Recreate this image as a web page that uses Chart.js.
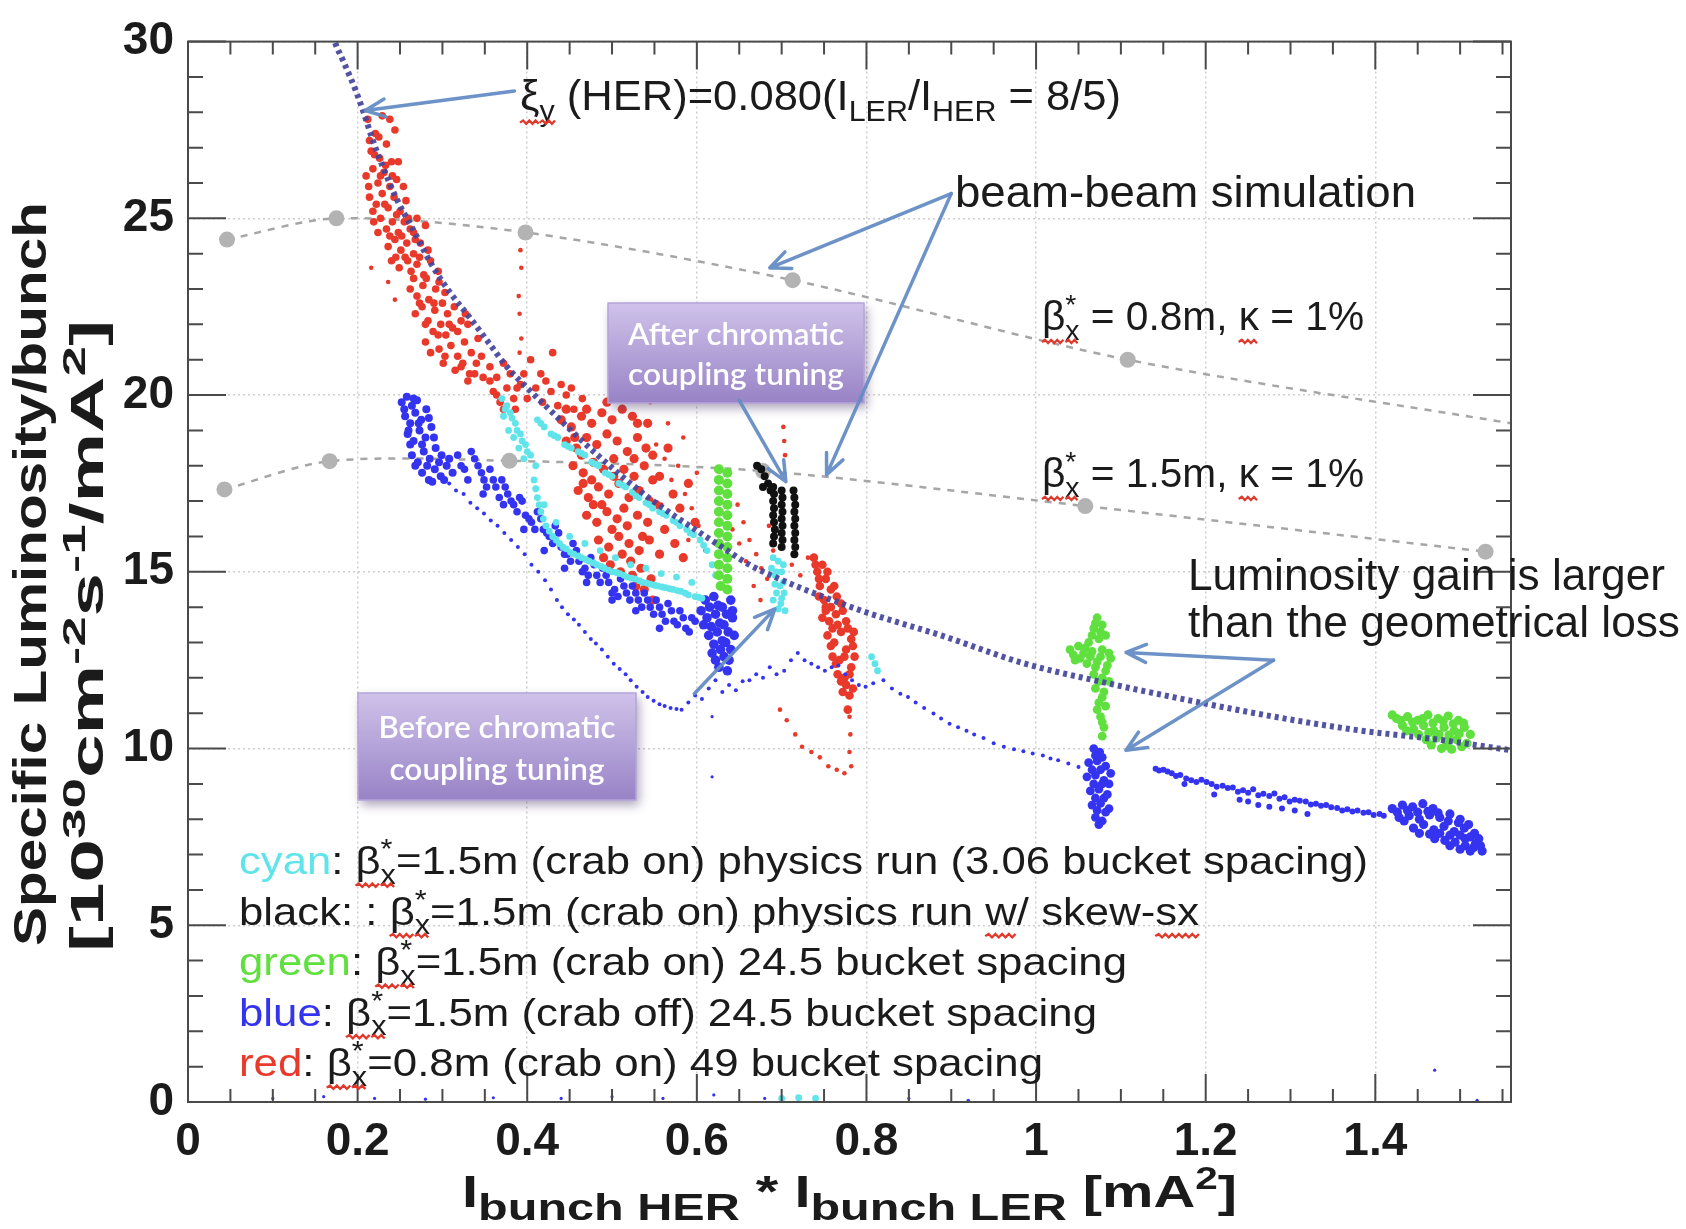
<!DOCTYPE html>
<html>
<head>
<meta charset="utf-8">
<title>Specific luminosity per bunch</title>
<script src="https://cdn.jsdelivr.net/npm/chart.js@4.4.1/dist/chart.umd.min.js"></script>
<style>
  html, body { margin: 0; padding: 0; background: #fff; }
  #wrap { width: 1686px; height: 1229px; }
</style>
</head>
<body>
<div id="wrap"><canvas id="lumiChart" width="1686" height="1229"></canvas></div>
<script>
// ---- measured data: [I_HER*I_LER (mA^2), specific luminosity] ----

// beam-beam limit curve xi_y(HER) = 0.080
const xiCurve = [[0.168,30.4],[0.173,30.0],[0.184,29.4],[0.198,28.6],[0.207,28.0],[0.218,27.2],[0.229,26.5],
  [0.247,25.5],[0.265,24.7],[0.287,23.7],[0.309,22.9],[0.332,22.2],[0.354,21.5],[0.376,20.8],[0.400,20.2],
  [0.430,19.5],[0.483,18.3],[0.543,17.1],[0.604,16.1],[0.636,15.6],[0.662,15.2],[0.702,14.75],[0.743,14.35],
  [0.800,13.85],[0.888,13.2],[0.987,12.4],[1.065,11.95],[1.183,11.35],[1.281,10.9],[1.379,10.52],[1.478,10.24],[1.560,9.95]];

// beam-beam simulation
const simBeta08 = [[0.046,24.4],[0.175,25.0],[0.398,24.6],[0.713,23.25],[1.108,21.0],[1.560,19.2]];
const simBeta15 = [[0.043,17.33],[0.167,18.13],[0.379,18.14],[0.678,17.85],[1.058,16.86],[1.530,15.57]];

// red: beta_x* = 0.8m (crab on) 49 bucket spacing
const redBand = [[0.212,27.8],[0.221,27.4],[0.229,27.9],[0.216,26.9],[0.226,26.7],[0.234,27.1],[0.240,26.6],[0.244,27.5],
  [0.210,26.2],[0.218,26.4],[0.224,26.0],[0.231,26.3],[0.238,25.9],[0.246,26.1],[0.214,25.6],[0.222,25.4],[0.229,25.7],
  [0.236,25.3],[0.243,25.6],[0.250,25.2],[0.257,25.5],[0.219,24.9],[0.227,25.0],[0.234,24.7],[0.241,24.9],[0.248,24.6],
  [0.255,24.9],[0.262,24.7],[0.270,25.0],[0.280,24.8],[0.236,24.2],[0.244,24.4],[0.251,24.1],[0.258,24.3],[0.266,24.0],
  [0.274,24.3],[0.240,23.8],[0.249,23.6],[0.256,23.9],[0.263,23.5],[0.270,23.7],[0.278,23.4],[0.286,23.8],[0.295,23.5],
  [0.262,23.0],[0.270,22.8],[0.277,23.1],[0.284,22.7],[0.292,23.0],[0.300,22.6],[0.268,22.3],[0.276,22.5],[0.283,22.1],
  [0.291,22.4],[0.298,22.0],[0.306,22.3],[0.314,22.5],[0.322,22.1],[0.289,21.8],[0.304,21.7],[0.312,21.9],[0.330,22.0],
  [0.280,21.5],[0.296,21.3],[0.310,21.4],[0.318,21.1],[0.326,21.5],[0.334,21.2],[0.342,21.6],[0.315,20.7],[0.324,20.9],
  [0.332,20.6],[0.340,20.9],[0.348,20.5],[0.356,20.8],[0.364,20.5],[0.372,20.9],[0.301,20.9],[0.360,20.1],[0.368,19.8],
  [0.376,20.2],[0.384,19.9],[0.392,20.3],[0.400,19.9],[0.410,20.2],[0.418,19.8],[0.428,20.1],[0.436,19.7],[0.446,20.0],
  [0.455,19.6],[0.404,21.0],[0.430,21.2],[0.416,20.6],
  [0.214,27.2],[0.225,27.3],[0.238,27.8],[0.220,26.8],[0.233,26.5],[0.248,26.6],[0.213,25.9],[0.227,26.2],[0.241,26.2],
  [0.254,25.9],[0.218,25.2],[0.232,25.4],[0.246,25.1],[0.260,25.0],[0.268,24.4],[0.224,24.6],[0.238,24.5],[0.252,24.5],
  [0.266,24.6],[0.245,23.9],[0.259,23.8],[0.273,23.9],[0.283,24.1],[0.266,23.3],[0.281,23.3],[0.290,22.6],[0.296,23.2],
  [0.273,22.6],[0.303,22.9],[0.280,22.0],[0.295,21.7],[0.308,22.0],[0.318,21.8],[0.327,22.3],[0.286,21.2],[0.303,21.1],
  [0.322,20.8],[0.338,20.6],[0.346,21.1],[0.356,20.4],[0.330,20.4],[0.364,20.0],[0.380,20.6],[0.388,20.2],[0.396,20.6],
  [0.422,20.4],[0.440,20.3],[0.452,20.2],[0.465,19.9],[0.372,19.6],[0.386,19.6]];
const redCore = [[0.440,19.3],[0.452,19.1],[0.464,19.4],[0.476,19.2],[0.488,19.5],[0.500,19.3],[0.512,19.6],[0.524,19.4],
  [0.446,18.7],[0.458,18.5],[0.470,18.8],[0.482,18.6],[0.494,18.9],[0.506,18.7],[0.518,18.4],[0.530,18.8],[0.540,18.5],
  [0.454,18.0],[0.466,17.8],[0.478,18.1],[0.490,17.9],[0.502,18.2],[0.514,17.9],[0.526,17.7],[0.538,18.0],
  [0.460,17.3],[0.472,17.1],[0.484,17.4],[0.496,17.2],[0.508,17.5],[0.520,17.1],[0.532,17.3],[0.544,17.0],
  [0.470,16.6],[0.482,16.4],[0.494,16.7],[0.506,16.5],[0.518,16.3],[0.530,16.6],[0.542,16.4],
  [0.484,15.9],[0.496,15.7],[0.508,16.0],[0.520,15.8],[0.532,15.6],[0.544,15.9],
  [0.498,15.2],[0.510,15.0],[0.522,15.3],[0.534,15.1],[0.546,14.8],[0.528,14.6],
  [0.446,19.6],[0.470,19.6],[0.494,19.8],[0.518,19.9],[0.530,19.2],[0.542,19.2],[0.548,18.3],[0.556,17.7],[0.552,16.9],
  [0.562,16.2],[0.556,15.5],[0.572,17.2],[0.566,18.5],[0.580,16.8],[0.590,17.5],[0.574,15.8],[0.584,15.4],[0.598,16.4],
  [0.538,14.5],[0.548,14.2],[0.464,18.3],[0.476,17.6],[0.488,16.9],[0.500,16.2],[0.512,15.5],[0.524,14.9],[0.456,18.8],
  [0.478,16.9],[0.490,15.4],[0.536,16.0],[0.548,17.6],[0.526,18.2],[0.514,16.8],[0.502,17.7],[0.466,17.5]];
const redSparse = [[0.216,23.6],[0.236,23.2],[0.244,22.7],[0.392,24.1],[0.393,23.6],[0.390,22.8],[0.391,22.3],[0.393,21.6],
  [0.391,21.2],[0.552,18.6],[0.562,18.2],[0.570,17.6],[0.578,18.0],[0.586,17.2],[0.594,16.8],[0.602,16.3],[0.558,16.9],
  [0.575,16.4],[0.590,15.9],[0.610,15.6],[0.566,19.2],[0.584,18.8],[0.545,19.8],[0.560,19.9],[0.600,17.8],
  [0.648,16.9],[0.655,16.4],[0.662,15.9],[0.670,15.5],[0.676,15.1],[0.683,14.8],[0.658,15.3],[0.667,14.6],[0.675,14.2],
  [0.650,15.8],[0.642,16.2],[0.690,15.6],[0.685,16.3],[0.702,19.1],[0.703,18.7],[0.704,18.3],[0.712,15.2],[0.722,14.9],
  [0.731,15.4],[0.780,10.9],[0.781,10.4],[0.780,9.9],[0.782,9.5],[0.698,11.1],[0.706,10.8],[0.716,10.4],[0.724,10.05],
  [0.735,9.9],[0.745,9.75],[0.755,9.5],[0.765,9.4],[0.774,9.3]];
const redCluster = [[0.738,15.4],[0.742,15.0],[0.748,15.2],[0.745,14.6],[0.752,14.8],[0.758,14.5],[0.750,14.2],[0.758,14.0],
  [0.765,14.3],[0.748,13.7],[0.756,13.6],[0.764,13.8],[0.772,13.9],[0.754,13.2],[0.762,13.0],[0.770,13.3],[0.778,13.4],
  [0.760,12.6],[0.768,12.5],[0.776,12.8],[0.784,12.9],[0.766,12.1],[0.774,12.0],[0.782,12.3],[0.772,11.6],[0.780,11.5],
  [0.778,11.1],[0.785,13.3],
  [0.740,15.2],[0.744,14.8],[0.754,15.0],[0.762,14.6],[0.752,14.0],[0.744,14.3],[0.770,14.1],[0.760,13.4],[0.752,13.9],
  [0.776,13.6],[0.766,13.5],[0.782,13.1],[0.758,12.9],[0.774,12.6],[0.786,12.6],[0.764,12.4],[0.780,12.1],[0.770,11.9],
  [0.776,11.8],[0.784,11.7]];

// blue: beta_x* = 1.5m (crab off) 24.5 bucket spacing
const blueTop = [[0.252,19.8],[0.258,19.95],[0.264,19.7],[0.270,19.85],[0.256,19.4],[0.262,19.2],[0.268,19.5],[0.275,19.3],
  [0.281,19.6],[0.259,18.9],[0.266,18.7],[0.273,19.0],[0.280,18.8],[0.287,19.1],[0.264,18.3],[0.271,18.1],[0.278,18.4],
  [0.285,18.2],[0.292,18.5],[0.299,18.3],[0.276,17.8],[0.284,17.6],[0.291,17.9],[0.298,17.7],[0.305,18.0],[0.312,17.8],
  [0.255,19.6],[0.266,19.9],[0.260,19.0],[0.272,19.2],[0.284,19.35],[0.262,18.6],[0.276,18.6],[0.290,18.8],[0.268,18.0],
  [0.282,18.0],[0.296,18.1],[0.288,17.55],[0.302,17.6],[0.308,18.2]];
const blueBand = [[0.318,18.3],[0.326,17.9],[0.334,18.4],[0.342,18.0],[0.349,17.6],[0.356,17.9],[0.363,17.4],[0.370,17.6],
  [0.377,17.2],[0.384,16.9],[0.391,17.1],[0.398,16.6],[0.405,16.4],[0.412,16.7],[0.419,16.2],[0.426,16.0],[0.433,16.3],
  [0.440,15.7],[0.447,15.5],[0.454,15.8],[0.461,15.3],[0.468,15.1],[0.475,15.4],[0.482,14.9],[0.489,15.1],[0.496,14.7],
  [0.503,14.5],[0.510,14.8],[0.517,14.4],[0.524,14.6],[0.531,14.2],[0.538,14.4],[0.545,14.0],[0.552,14.2],[0.559,13.8],
  [0.566,14.1],[0.573,13.6],[0.580,13.9],[0.587,13.4],[0.594,13.7],[0.348,17.2],[0.372,16.9],[0.396,16.2],[0.420,15.6],
  [0.444,15.1],[0.470,14.7],[0.500,14.2],[0.528,13.9],[0.556,13.4],
  [0.322,18.0],[0.330,17.6],[0.338,18.2],[0.346,17.8],[0.352,17.4],[0.360,17.6],[0.367,17.1],[0.374,17.4],[0.381,17.0],
  [0.388,16.7],[0.394,17.0],[0.402,16.5],[0.409,16.2],[0.416,16.5],[0.423,16.1],[0.430,15.8],[0.437,16.1],[0.444,15.5],
  [0.451,15.3],[0.458,15.6],[0.465,15.0],[0.472,14.9],[0.479,15.2],[0.486,14.7],[0.493,14.9],[0.500,14.4],[0.507,14.3],
  [0.514,14.6],[0.521,14.2],[0.528,14.4],[0.535,14.0],[0.542,14.2],[0.549,13.8],[0.556,14.0],[0.563,13.6],[0.570,13.9],
  [0.577,13.5],[0.584,13.7],[0.591,13.3],[0.598,13.6]];
const blueCore = [[0.610,14.2],[0.620,14.3],[0.630,14.0],[0.640,14.2],[0.612,13.7],[0.622,13.8],[0.632,13.5],[0.642,13.7],
  [0.614,13.2],[0.624,13.3],[0.634,13.0],[0.644,13.2],[0.618,12.7],[0.628,12.8],[0.638,12.5],[0.626,12.3],[0.636,12.2],[0.605,13.9],
  [0.615,14.0],[0.625,14.05],[0.635,13.8],[0.617,13.45],[0.627,13.55],[0.637,13.3],[0.620,12.95],[0.630,13.05],[0.640,12.8],
  [0.622,12.5],[0.632,12.6],[0.642,13.9],[0.608,13.5]];
const blueStrand = [[0.300,17.7],[0.308,17.5],[0.316,17.3],[0.325,17.2],[0.333,16.95],[0.341,16.8],[0.349,16.65],[0.357,16.45],
  [0.365,16.3],[0.373,16.1],[0.381,15.9],[0.389,15.7],[0.397,15.5],[0.405,15.2],[0.413,15.0],[0.421,14.76],[0.428,14.5],
  [0.435,14.2],[0.441,14.0],[0.448,13.8],[0.455,13.65],[0.461,13.5],[0.468,13.3],[0.475,13.1],[0.481,12.97],[0.488,12.8],
  [0.495,12.6],[0.502,12.4],[0.509,12.25],[0.516,12.1],[0.522,11.93],[0.529,11.75],[0.536,11.6],[0.542,11.46],[0.549,11.35],
  [0.556,11.25],[0.562,11.2],[0.569,11.15],[0.576,11.12],[0.582,11.1],[0.590,11.3],[0.598,11.5],[0.606,11.4],[0.614,11.7],
  [0.622,11.93],[0.630,11.6],[0.638,11.8],[0.646,11.65],[0.654,11.9],[0.662,11.93],[0.670,12.1],[0.678,12.0],[0.686,12.3],
  [0.694,12.1],[0.703,12.2],[0.711,12.5],[0.719,12.7],[0.727,12.5],[0.735,12.4],[0.743,12.3],[0.751,12.2],[0.759,12.3],
  [0.767,12.35],[0.775,12.1],[0.783,11.93],[0.791,11.8],[0.799,11.75],[0.808,11.85],[0.820,11.93],[0.830,11.7],[0.840,11.55],
  [0.849,11.46],[0.858,11.3],[0.868,11.15],[0.879,10.99],[0.888,10.85],[0.898,10.7],[0.908,10.6],[0.918,10.5],[0.927,10.4],
  [0.938,10.3],[0.950,10.15],[0.962,10.05],[0.974,9.98],[0.985,9.92],[0.996,9.86],[1.008,9.8],[1.017,9.72],[1.026,9.67],
  [1.038,9.58],[1.050,9.48]];
const blueMid = [[1.068,10.0],[1.075,9.9],[1.062,9.6],[1.072,9.65],[1.082,9.5],[1.060,9.2],[1.070,9.25],[1.080,9.1],[1.088,9.3],
  [1.064,8.8],[1.074,8.85],[1.084,8.7],[1.066,8.4],[1.076,8.45],[1.086,8.3],[1.070,8.05],[1.078,7.95],
  [1.070,9.8],[1.078,9.75],[1.066,9.4],[1.076,9.4],[1.086,9.0],[1.068,9.0],[1.078,9.0],[1.070,8.6],[1.080,8.6],[1.072,8.25],
  [1.082,8.2],[1.074,7.85]];
const blueTail = [[1.141,9.43],[1.150,9.40],[1.160,9.30],[1.170,9.25],[1.183,9.10],[1.195,9.12],[1.207,9.00],[1.220,8.95],
  [1.232,8.90],[1.244,8.82],[1.256,8.85],[1.268,8.72],[1.281,8.73],[1.293,8.62],[1.305,8.55],[1.318,8.50],[1.330,8.44],
  [1.342,8.40],[1.355,8.32],[1.367,8.28],[1.379,8.25],[1.392,8.20],[1.405,8.15],[1.175,9.0],[1.210,8.7],[1.240,8.55],
  [1.262,8.4],[1.290,8.3],[1.320,8.15],
  [1.145,9.38],[1.155,9.35],[1.165,9.22],[1.177,9.15],[1.189,9.05],[1.201,9.05],[1.213,8.92],[1.226,8.88],[1.238,8.78],
  [1.250,8.75],[1.262,8.68],[1.275,8.66],[1.287,8.58],[1.299,8.5],[1.311,8.52],[1.324,8.42],[1.336,8.38],[1.348,8.34],
  [1.361,8.25],[1.373,8.22],[1.386,8.18],[1.398,8.12],[1.410,8.1],[1.250,8.5],[1.275,8.35],[1.305,8.25]];
const blueEnd = [[1.420,8.30],[1.432,8.40],[1.444,8.35],[1.456,8.44],[1.468,8.30],[1.428,8.05],[1.440,8.10],[1.452,8.0],
  [1.464,8.12],[1.476,8.05],[1.488,8.15],[1.500,8.0],[1.445,7.75],[1.457,7.85],[1.469,7.7],[1.481,7.8],[1.493,7.65],
  [1.505,7.75],[1.517,7.6],[1.470,7.45],[1.482,7.4],[1.494,7.35],[1.506,7.45],[1.518,7.3],[1.500,7.15],[1.512,7.1],[1.524,7.25],
  [1.426,8.2],[1.438,8.25],[1.450,8.2],[1.462,8.22],[1.474,8.18],[1.486,7.95],[1.498,7.9],[1.510,7.85],[1.434,7.95],
  [1.452,7.6],[1.464,7.58],[1.476,7.6],[1.488,7.55],[1.500,7.55],[1.512,7.5],[1.522,7.45],[1.488,7.25],[1.506,7.25],
  [1.516,7.2],[1.526,7.1]];
const blueStray = [[0.618,10.9],[0.618,9.2],[1.470,0.9],[0.10,0.1],[0.16,0.15],[0.22,0.1],[0.28,0.08],[0.36,0.12],[0.44,0.1],
  [0.50,0.15],[0.56,0.1],[0.62,0.2],[0.68,0.1],[0.85,0.1],[0.92,0.05],[1.52,0.05]];

// cyan: beta_x* = 1.5m (crab on) physics run
const cyanUpper = [[0.370,19.9],[0.376,19.7],[0.372,19.4],[0.380,19.5],[0.386,19.2],[0.378,19.0],[0.384,18.8],[0.392,18.9],
  [0.390,18.5],[0.398,18.6],[0.396,18.2],[0.404,18.3],[0.410,18.0],[0.412,19.3],[0.420,19.1],[0.428,18.9],[0.436,18.8],
  [0.444,18.6],[0.452,18.5],[0.460,18.4],[0.468,18.3],[0.476,18.1],[0.484,18.0],[0.492,17.8],[0.500,17.7],[0.508,17.5],
  [0.516,17.4],[0.524,17.25],[0.532,17.1],[0.540,16.95],[0.548,16.8],[0.556,16.7],[0.564,16.6],[0.572,16.45],[0.580,16.3],
  [0.588,16.2],[0.596,16.05],[0.604,15.9],[0.612,15.6],[0.618,15.2],[0.622,14.9],
  [0.374,19.6],[0.382,19.35],[0.388,19.0],[0.394,18.7],[0.400,18.4],[0.416,19.2],[0.432,18.85],[0.448,18.55],[0.464,18.35],
  [0.480,18.05],[0.496,17.75],[0.512,17.45],[0.528,17.15],[0.544,16.9],[0.560,16.65],[0.576,16.4],[0.592,16.1],[0.608,15.75]];
const cyanLower = [[0.408,17.6],[0.412,17.1],[0.416,16.7],[0.422,16.3],[0.430,16.0],[0.438,15.8],[0.446,15.65],[0.455,15.5],
  [0.464,15.4],[0.473,15.3],[0.482,15.2],[0.491,15.1],[0.500,15.0],[0.509,14.95],[0.518,14.85],[0.527,14.8],[0.536,14.7],
  [0.545,14.65],[0.554,14.6],[0.563,14.55],[0.572,14.5],[0.581,14.45],[0.590,14.35],[0.598,14.3],[0.606,14.25],
  [0.420,16.9],[0.434,16.4],[0.450,16.0],[0.468,15.8],[0.486,15.6],[0.504,15.4],[0.522,15.2],[0.540,15.1],[0.558,14.95],
  [0.576,14.85],[0.594,14.7],
  [0.410,17.35],[0.414,16.9],[0.419,16.5],[0.426,16.15],[0.434,15.9],[0.442,15.7],[0.451,15.55],[0.460,15.45],[0.469,15.35],
  [0.478,15.25],[0.487,15.15],[0.496,15.05],[0.505,14.98],[0.514,14.9],[0.523,14.82],[0.532,14.75],[0.541,14.68],
  [0.550,14.62],[0.559,14.57],[0.568,14.52],[0.577,14.47],[0.586,14.4],[0.602,14.28]];
const cyanStrip = [[0.690,15.4],[0.696,15.3],[0.700,15.0],[0.692,14.9],[0.698,14.6],[0.703,14.4],[0.694,14.4],[0.699,14.1],
  [0.704,13.9],[0.690,14.2],[0.688,15.1],[0.694,15.0],[0.702,14.7],[0.692,14.65],[0.700,14.25],[0.696,13.95],[0.702,15.2],
  [0.806,12.6],[0.810,12.4],[0.813,12.2],[0.70,0.1],[0.72,0.12],[0.74,0.1]];

// green: beta_x* = 1.5m (crab on) 24.5 bucket spacing
const greenBar = [[0.626,17.9],[0.636,17.8],[0.626,17.6],[0.636,17.5],[0.626,17.3],[0.636,17.2],[0.626,17.0],[0.636,16.9],
  [0.626,16.7],[0.636,16.6],[0.626,16.4],[0.636,16.3],[0.626,16.1],[0.636,16.0],[0.626,15.8],[0.636,15.7],[0.626,15.5],
  [0.636,15.4],[0.626,15.2],[0.636,15.1],[0.626,14.9],[0.636,14.8],[0.628,14.6],[0.636,14.5]];
const greenMid = [[1.072,13.7],[1.078,13.5],[1.068,13.4],[1.082,13.2],[1.074,13.1],[1.062,13.0],[1.050,12.9],[1.040,12.8],
  [1.056,12.7],[1.066,12.75],[1.078,12.8],[1.086,12.7],[1.046,12.5],[1.060,12.4],[1.072,12.45],[1.084,12.35],[1.068,12.1],
  [1.078,12.0],[1.086,11.9],[1.070,11.7],[1.080,11.6],[1.074,11.3],[1.082,11.2],[1.076,10.9],[1.080,10.6],[1.078,10.35],
  [1.070,13.55],[1.076,13.3],[1.066,13.2],[1.058,12.85],[1.044,12.65],[1.052,12.55],[1.064,12.6],[1.076,12.6],[1.088,12.55],
  [1.070,12.3],[1.082,12.2],[1.074,11.9],[1.078,11.45],[1.072,11.1],[1.078,10.75]];
const greenEnd = [[1.425,10.85],[1.438,10.9],[1.450,10.8],[1.462,10.95],[1.474,10.85],[1.486,10.92],[1.498,10.8],[1.445,10.55],
  [1.457,10.65],[1.469,10.5],[1.481,10.6],[1.493,10.5],[1.505,10.6],[1.512,10.4],[1.460,10.25],[1.472,10.3],[1.484,10.2],
  [1.496,10.25],[1.508,10.15],[1.478,10.0],[1.490,9.98],[1.432,10.65],
  [1.430,10.8],[1.444,10.75],[1.456,10.85],[1.468,10.72],[1.480,10.78],[1.492,10.7],[1.504,10.72],[1.451,10.4],[1.463,10.45],
  [1.475,10.4],[1.487,10.38],[1.499,10.42],[1.466,10.1],[1.484,10.08],[1.502,10.05],[1.420,10.95],[1.437,10.5]];

// black: beta_x* = 1.5m (crab on) physics run w/ skew-sx
const blackPts = [[0.671,18.0],[0.676,17.9],[0.680,17.7],[0.684,17.5],[0.678,17.4],[0.687,17.3],
  [0.690,17.4],[0.691,17.2],[0.690,17.0],[0.691,16.8],[0.690,16.6],[0.691,16.4],[0.692,16.2],[0.691,16.0],[0.690,15.8],
  [0.700,17.3],[0.701,17.1],[0.700,16.9],[0.701,16.7],[0.700,16.5],[0.701,16.3],[0.700,16.1],[0.701,15.9],[0.700,15.7],
  [0.714,17.3],[0.715,17.1],[0.716,16.9],[0.715,16.7],[0.716,16.5],[0.715,16.3],[0.716,16.1],[0.715,15.9],[0.716,15.7],[0.715,15.5]];

const xTicks = { min: 0, max: 1.56, step: 0.2 };
const yTicks = { min: 0, max: 30, step: 5 };

// ---- drawing helpers ----
const SANS = '"Liberation Sans", Arial, Helvetica, sans-serif';
const INK = '#1b1b1b';
const COL = { red: '#e8392b', blue: '#3434f0', cyan: '#5fe4ea', green: '#5fe03e', black: '#111111' };

const pts = arr => arr.map(p => ({ x: p[0], y: p[1] }));

function scatterSet(arr, color, radius, order) {
  return { type: 'scatter', data: pts(arr), backgroundColor: color, borderWidth: 0,
    pointRadius: radius, pointHoverRadius: radius, order: order };
}

function squiggle(ctx, x1, x2, y) {
  ctx.save();
  ctx.strokeStyle = '#e0392b';
  ctx.lineWidth = 2.2;
  ctx.beginPath();
  ctx.moveTo(x1, y);
  let up = true;
  for (let x = x1 + 3; x <= x2 + 0.5; x += 3) {
    ctx.lineTo(x, up ? y - 2.2 : y + 1.2);
    up = !up;
  }
  ctx.stroke();
  ctx.restore();
}

// text with sub/superscripts, stretched to a given width
function drawRich(ctx, segs, x, y, o) {
  const fam = o.family || SANS;
  const weight = o.weight || 'normal';
  const subScale = o.subScale || 0.7, subShift = o.subShift || 0.25;
  const supScale = o.supScale || 0.7, supShift = o.supShift || -0.4;
  const font = sz => `${weight} ${sz}px ${fam}`;
  const laid = [];
  let cx = 0, prevStart = 0;
  segs.forEach(seg => {
    const sz = seg.sub ? o.size * subScale : seg.sup ? o.size * supScale : o.size;
    ctx.font = font(sz);
    const sw = ctx.measureText(seg.t).width;
    let sx = cx;
    if (seg.stack) { sx = prevStart; cx = Math.max(cx, sx + sw); }
    else cx += sw;
    const dy = seg.sub ? o.size * subShift : seg.sup ? o.size * supShift : 0;
    laid.push({ seg, sz, sx, sw, dy });
    prevStart = sx;
  });
  const natural = cx;
  const k = o.width ? o.width / natural : 1;
  ctx.save();
  ctx.translate(x, y);
  if (o.rotate) ctx.rotate(o.rotate);
  ctx.scale(k, 1);
  ctx.textBaseline = 'alphabetic';
  ctx.textAlign = 'left';
  const x0 = o.align === 'center' ? -natural / 2 : 0;
  laid.forEach(({ seg, sz, sx, sw, dy }) => {
    ctx.font = font(sz);
    ctx.fillStyle = seg.c || o.color || INK;
    ctx.fillText(seg.t, x0 + sx, dy);
    if (seg.u) squiggle(ctx, x0 + sx, x0 + sx + sw, o.size * 0.3);
  });
  ctx.restore();
}

function arrow(ctx, x1, y1, x2, y2) {
  const a = Math.atan2(y2 - y1, x2 - x1), h = 22, s = 0.42;
  ctx.beginPath();
  ctx.moveTo(x1, y1);
  ctx.lineTo(x2, y2);
  ctx.moveTo(x2 - h * Math.cos(a - s), y2 - h * Math.sin(a - s));
  ctx.lineTo(x2, y2);
  ctx.lineTo(x2 - h * Math.cos(a + s), y2 - h * Math.sin(a + s));
  ctx.stroke();
}

function purpleBox(ctx, x, y, w, h, lines) {
  ctx.save();
  ctx.shadowColor = 'rgba(70,50,100,0.45)';
  ctx.shadowBlur = 10;
  ctx.shadowOffsetX = 3;
  ctx.shadowOffsetY = 5;
  const g = ctx.createLinearGradient(0, y, 0, y + h);
  g.addColorStop(0, '#cfc2ea');
  g.addColorStop(1, '#9883c6');
  ctx.fillStyle = g;
  ctx.fillRect(x, y, w, h);
  ctx.restore();
  ctx.strokeStyle = '#b4a5da';
  ctx.lineWidth = 1.5;
  ctx.strokeRect(x, y, w, h);
  lines.forEach(ln => drawRich(ctx, [{ t: ln.t }], x + w / 2, ln.base,
    { size: 31, weight: '600', family: 'Lato, "Open Sans", sans-serif', color: '#ffffff', width: ln.w, align: 'center' }));
}

const beta = [{ t: 'β', u: 1 }, { t: 'x', sub: 1, u: 1 }, { t: '*', sup: 1, stack: 1 }];

const annotations = {
  id: 'annotations',
  afterDraw(chart) {
    const { ctx, chartArea: a, scales: { x, y } } = chart;
    const px = v => x.getPixelForValue(v);
    const py = v => y.getPixelForValue(v);

    // frame with inward ticks on all four sides
    ctx.save();
    ctx.strokeStyle = '#4a4a4a';
    ctx.lineWidth = 2;
    ctx.strokeRect(a.left, a.top, a.right - a.left, a.bottom - a.top);
    ctx.beginPath();
    for (let i = 0; i <= 30; i++) {
      const len = i % 5 === 0 ? 38 : 15, yy = py(i);
      ctx.moveTo(a.left, yy); ctx.lineTo(a.left + len, yy);
      ctx.moveTo(a.right, yy); ctx.lineTo(a.right - len, yy);
    }
    for (let i = 0; i * 0.05 <= 1.56; i++) {
      const len = i % 4 === 0 ? 28 : 13, xx = px(i * 0.05);
      ctx.moveTo(xx, a.top); ctx.lineTo(xx, a.top + len);
      ctx.moveTo(xx, a.bottom); ctx.lineTo(xx, a.bottom - len);
    }
    ctx.stroke();
    ctx.restore();

    // callout boxes
    purpleBox(ctx, 608, 303, 256, 100, [{ t: 'After chromatic', base: 345, w: 216 }, { t: 'coupling tuning', base: 385, w: 216 }]);
    purpleBox(ctx, 358, 693, 278, 107, [{ t: 'Before chromatic', base: 738, w: 237 }, { t: 'coupling tuning', base: 780, w: 215 }]);

    // arrows
    ctx.save();
    ctx.strokeStyle = 'rgba(100,140,196,0.95)';
    ctx.lineWidth = 3.5;
    ctx.lineCap = 'round';
    ctx.lineJoin = 'round';
    arrow(ctx, px(0.385), py(28.6), px(0.209), py(28.05));
    arrow(ctx, px(0.900), py(25.7), px(0.686), py(23.6));
    arrow(ctx, px(0.900), py(25.7), px(0.753), py(17.75));
    arrow(ctx, px(0.650), py(19.85), px(0.705), py(17.55));
    arrow(ctx, px(0.597), py(11.55), px(0.692), py(13.95));
    arrow(ctx, px(1.280), py(12.5), px(1.106), py(12.72));
    arrow(ctx, px(1.280), py(12.5), px(1.106), py(9.95));
    ctx.restore();

    // labels inside the plot
    drawRich(ctx, [{ t: 'ξ', u: 1 }, { t: 'y', sub: 1, u: 1 }, { t: ' (HER)=0.080(I' }, { t: 'LER', sub: 1 },
      { t: '/I' }, { t: 'HER', sub: 1 }, { t: ' = 8/5)' }], 520, 110, { size: 42, width: 601 });
    drawRich(ctx, [{ t: 'beam-beam simulation' }], 955, 207, { size: 44, width: 461 });
    drawRich(ctx, beta.concat([{ t: ' = 0.8m, ' }, { t: 'κ', u: 1 }, { t: ' = 1%' }]), 1042, 330, { size: 40, width: 322 });
    drawRich(ctx, beta.concat([{ t: ' = 1.5m, ' }, { t: 'κ', u: 1 }, { t: ' = 1%' }]), 1042, 487, { size: 40, width: 322 });
    drawRich(ctx, [{ t: 'Luminosity gain is larger' }], 1188, 590, { size: 44, width: 477 });
    drawRich(ctx, [{ t: 'than the geometrical loss' }], 1188, 637, { size: 44, width: 492 });

    // colour key
    const keyRows = [
      { segs: [{ t: 'cyan', c: COL.cyan }, { t: ': ' }].concat(beta, [{ t: '=1.5m (crab on) physics run (3.06 bucket spacing)' }]), w: 1129 },
      { segs: [{ t: 'black: : ' }].concat(beta, [{ t: '=1.5m (crab on) physics run ' }, { t: 'w', u: 1 }, { t: '/ skew-' }, { t: 'sx', u: 1 }]), w: 960 },
      { segs: [{ t: 'green', c: COL.green }, { t: ': ' }].concat(beta, [{ t: '=1.5m (crab on) 24.5 bucket spacing' }]), w: 888 },
      { segs: [{ t: 'blue', c: COL.blue }, { t: ': ' }].concat(beta, [{ t: '=1.5m (crab off) 24.5 bucket spacing' }]), w: 858 },
      { segs: [{ t: 'red', c: COL.red }, { t: ': ' }].concat(beta, [{ t: '=0.8m (crab on) 49 bucket spacing' }]), w: 804 }
    ];
    keyRows.forEach((r, i) => drawRich(ctx, r.segs, 239, 874 + i * 50.5, { size: 39, width: r.w }));

    // axis titles
    drawRich(ctx, [{ t: 'Specific Luminosity/bunch' }], 46, 946,
      { size: 46, weight: 'bold', width: 744, rotate: -Math.PI / 2 });
    drawRich(ctx, [{ t: '[10' }, { t: '30', sup: 1 }, { t: 'cm' }, { t: '-2', sup: 1 }, { t: 's' }, { t: '-1', sup: 1 },
      { t: '/mA' }, { t: '2', sup: 1 }, { t: ']' }], 103, 952,
      { size: 46, weight: 'bold', width: 632, rotate: -Math.PI / 2 });
    drawRich(ctx, [{ t: 'I' }, { t: 'bunch HER', sub: 1 }, { t: ' * ' }, { t: 'I' }, { t: 'bunch LER', sub: 1 },
      { t: ' [mA' }, { t: '2', sup: 1 }, { t: ']' }], 462, 1207,
      { size: 44, weight: 'bold', width: 775, subScale: 0.84, subShift: 0.3 });
  }
};

const tickFont = { family: SANS, size: 46, weight: 'bold' };
const plainNumber = v => String(Number(v.toFixed(2)));

new Chart(document.getElementById('lumiChart'), {
  type: 'scatter',
  data: {
    datasets: [
      { type: 'line', data: pts(simBeta08), borderColor: '#a6a6a6', borderWidth: 2.5, borderDash: [7, 7],
        tension: 0.3, pointRadius: [8, 8, 8, 8, 8, 0], pointBackgroundColor: '#b3b3b3', pointBorderWidth: 0, order: 10 },
      { type: 'line', data: pts(simBeta15), borderColor: '#a6a6a6', borderWidth: 2.5, borderDash: [7, 7],
        tension: 0.3, pointRadius: 8, pointBackgroundColor: '#b3b3b3', pointBorderWidth: 0, order: 10 },
      scatterSet(redBand, COL.red, 3.8, 9),
      scatterSet(redCore, COL.red, 4.6, 9),
      scatterSet(redSparse, COL.red, 2.3, 9),
      scatterSet(redCluster, COL.red, 4.3, 9),
      scatterSet(blueTop, COL.blue, 4, 8),
      scatterSet(blueBand, COL.blue, 3.8, 8),
      scatterSet(blueCore, COL.blue, 4.8, 8),
      scatterSet(blueStrand, COL.blue, 2, 8),
      scatterSet(blueMid, COL.blue, 4.4, 8),
      scatterSet(blueTail, COL.blue, 3, 8),
      scatterSet(blueEnd, COL.blue, 4.6, 8),
      scatterSet(blueStray, COL.blue, 1.6, 8),
      scatterSet(cyanUpper, COL.cyan, 3.4, 7),
      scatterSet(cyanLower, COL.cyan, 3.4, 7),
      scatterSet(cyanStrip, COL.cyan, 3.4, 7),
      scatterSet(greenBar, COL.green, 5, 6),
      scatterSet(greenMid, COL.green, 4.4, 6),
      scatterSet(greenEnd, COL.green, 4.6, 6),
      scatterSet(blackPts, COL.black, 4, 5),
      { type: 'line', data: pts(xiCurve), borderColor: 'rgba(68,68,155,0.92)', borderWidth: 6, borderDash: [4, 4],
        cubicInterpolationMode: 'monotone', pointRadius: 0, order: 1 }
    ]
  },
  options: {
    responsive: false,
    animation: false,
    devicePixelRatio: 1,
    events: [],
    layout: { padding: { top: 41, right: 175, left: 0, bottom: 0 } },
    plugins: { legend: { display: false }, tooltip: { enabled: false } },
    scales: {
      x: {
        type: 'linear', min: xTicks.min, max: xTicks.max,
        afterFit: s => { s.height = 127; },
        ticks: { stepSize: xTicks.step, includeBounds: false, font: tickFont, color: INK, padding: 13,
          maxRotation: 0, autoSkip: false, callback: plainNumber },
        grid: { color: '#cdcdcd', lineWidth: 1.5, drawTicks: false },
        border: { display: false, dash: [2, 3] }
      },
      y: {
        type: 'linear', min: yTicks.min, max: yTicks.max,
        afterFit: s => { s.width = 188; },
        ticks: { stepSize: yTicks.step, font: tickFont, color: INK, padding: 14, callback: plainNumber },
        grid: { color: '#cdcdcd', lineWidth: 1.5, drawTicks: false },
        border: { display: false, dash: [2, 3] }
      }
    }
  },
  plugins: [annotations]
});
</script>
</body>
</html>
